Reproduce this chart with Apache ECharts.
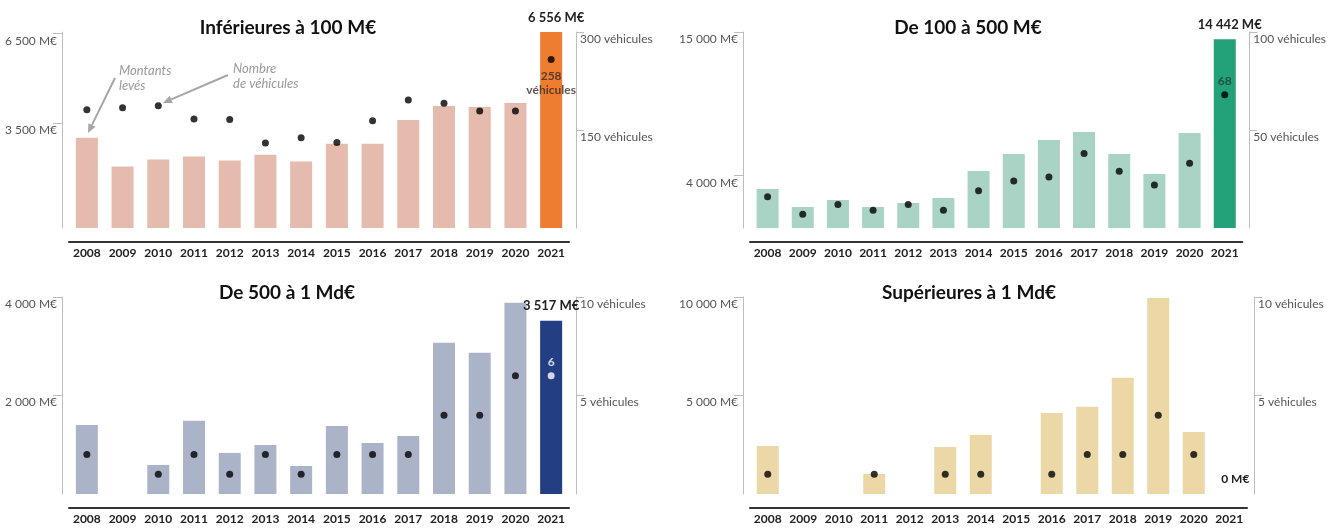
<!DOCTYPE html>
<html>
<head>
<meta charset="utf-8">
<script src="https://cdn.jsdelivr.net/npm/echarts@6/dist/echarts.min.js"></script>
<style>
html,body{margin:0;padding:0;background:#fff;}
#chart{width:1329px;height:528px;}
</style>
</head>
<body>
<div id="chart"></div>
<script>
// ---- data ----
const years = ['2008','2009','2010','2011','2012','2013','2014','2015','2016','2017','2018','2019','2020','2021'];

const amtInf100   = [3018, 2056, 2288, 2388, 2255, 2454, 2222, 2819, 2819, 3615, 4080, 4046, 4179, 6556];
const vehInf100   = [181, 184, 187, 167, 166, 130, 138, 131, 164, 196, 191, 179, 179, 258];

const amt100_500  = [2985, 1607, 2143, 1607, 1913, 2296, 4362, 5663, 6735, 7347, 5663, 4133, 7270, 14442];
const veh100_500  = [16, 7, 12, 9, 12, 9, 19, 24, 26, 38, 29, 22, 33, 68];

const amt500_1000 = [1403, null, 590, 1485, 834, 997, 569, 1383, 1037, 1180, 3071, 2868, 3885, 3517];
const veh500_1000 = [2, null, 1, 2, 1, 2, 1, 2, 2, 2, 4, 4, 6, 6];

const amtSup1000  = [2440, null, null, 1017, null, 2390, 3000, null, 4118, 4423, 5897, 9950, 3152, 0];
const vehSup1000  = [1, null, null, 1, null, 1, 1, null, 1, 2, 2, 4, 2, null];

const titles = ['Inférieures à 100 M€', 'De 100 à 500 M€', 'De 500 à 1 Md€', 'Supérieures à 1 Md€'];
const leftTicks  = [[3500, 6500], [4000, 15000], [2000, 4000], [5000, 10000]];
const leftMax    = [6556, 15000, 4000, 10000];
const rightTicks = [[150, 300], [50, 100], [5, 10], [5, 10]];
const rightMax   = [300, 100, 10, 10];

// ---- styling ----
const FONT = 'Lato, "Open Sans", sans-serif';
const panels = [
  {amt: amtInf100,   veh: vehInf100,   light: '#e4bbad', dark: '#ee7d31', left: 69,  top: 32,  width: 500, height: 196, tx: 283},
  {amt: amt100_500,  veh: veh100_500,  light: '#a9d3c5', dark: '#23a179', left: 750, top: 32,  width: 497, height: 196, tx: 963},
  {amt: amt500_1000, veh: veh500_1000, light: '#aab3c8', dark: '#233e82', left: 69,  top: 297, width: 500, height: 197, tx: 282},
  {amt: amtSup1000,  veh: vehSup1000,  light: '#ecd7a6', dark: '#ecd7a6', left: 750, top: 297, width: 497, height: 197, tx: 964}
];

function fmt(v){ return String(v).replace(/\B(?=(\d{3})+(?!\d))/g, ' '); }

const grid = [], xAxis = [], yAxis = [], series = [], title = [];
panels.forEach((p, i) => {
  grid.push({left: p.left, top: p.top, width: p.width, height: p.height});
  title.push({
    text: titles[i], left: p.tx, top: p.top - 19, textAlign: 'center',
    textStyle: {fontFamily: FONT, fontWeight: 'bold', fontSize: 19, color: '#111'}
  });
  xAxis.push({
    type: 'category', gridIndex: i, data: years, offset: 14,
    axisLine: {onZero: false, lineStyle: {color: '#333', width: 2}},
    axisTick: {show: false},
    axisLabel: {fontFamily: FONT, fontWeight: 'bold', fontSize: 12, color: '#222', margin: 5, interval: 0}
  });
  yAxis.push({
    type: 'value', gridIndex: i, min: 0, max: leftMax[i], position: 'left', offset: 7,
    splitLine: {show: false},
    axisLine: {show: true, lineStyle: {color: '#bdbdbd', width: 1}},
    axisTick: {show: true, length: 9, customValues: leftTicks[i], lineStyle: {color: '#bdbdbd'}},
    axisLabel: {customValues: leftTicks[i], formatter: v => fmt(v) + ' M€', verticalAlign: 'top', padding: [1,0,0,0],
      fontFamily: FONT, fontSize: 12, color: '#555', margin: 5}
  });
  yAxis.push({
    type: 'value', gridIndex: i, min: 0, max: rightMax[i], position: 'right', offset: 7,
    splitLine: {show: false},
    axisLine: {show: true, lineStyle: {color: '#bdbdbd', width: 1}},
    axisTick: {show: true, length: 8, customValues: rightTicks[i], lineStyle: {color: '#bdbdbd'}},
    axisLabel: {customValues: rightTicks[i], formatter: v => v + ' véhicules', verticalAlign: 'top', padding: [1,0,0,0],
      fontFamily: FONT, fontSize: 12, color: '#555', margin: 4}
  });

  const last = years.length - 1;
  series.push({
    type: 'bar', xAxisIndex: i, yAxisIndex: 2 * i, barWidth: 22,
    data: p.amt.map((v, k) => {
      if (k !== last) return {value: v == null ? '-' : v, itemStyle: {color: p.light}};
      return {
        value: v, itemStyle: {color: p.dark},
        label: {show: true, position: 'top', distance: 8, offset: [i === 2 ? 0 : 5, 0],
          formatter: d => fmt(d.value) + ' M€',
          fontFamily: FONT, fontWeight: 'bold', fontSize: 13, color: '#222'}
      };
    })
  });
  series.push({
    type: 'scatter', xAxisIndex: i, yAxisIndex: 2 * i + 1, symbolSize: 7, z: 5,
    itemStyle: {color: '#000'},
    data: p.veh.map((v, k) => {
      if (v == null) return '-';
      if (k !== last) return v;
      if (i === 0) return {value: v, label: {show: true, position: 'bottom', distance: 6,
        formatter: d => d.value + '\nvéhicules', lineHeight: 14,
        fontFamily: FONT, fontWeight: 'bold', fontSize: 12, color: '#3a2a22'}};
      if (i === 1) return {value: v, label: {show: true, position: 'top', distance: 4,
        formatter: d => String(d.value), fontFamily: FONT, fontWeight: 'bold', fontSize: 12, color: '#1d3d33'}};
      return {value: v, itemStyle: {color: '#fff'}, label: {show: true, position: 'top', distance: 4,
        formatter: d => String(d.value), fontFamily: FONT, fontWeight: 'bold', fontSize: 12, color: '#fff'}};
    })
  });
});

// bottom-right panel: "0 M€" label on the empty 2021 bar
series[6].data[13] = {value: 0, label: {show: true, position: 'top', distance: 9, offset: [6, 0],
  formatter: '0 M€', fontFamily: FONT, fontWeight: 'bold', fontSize: 12, color: '#222'}};

// ---- annotation arrows (first panel) ----
function arrow(x1, y1, x2, y2){
  const ang = Math.atan2(y2 - y1, x2 - x1), L = 9, W = 4;
  const bx = x2 - L * Math.cos(ang), by = y2 - L * Math.sin(ang);
  const nx = -Math.sin(ang) * W, ny = Math.cos(ang) * W;
  return [
    {type: 'line', shape: {x1: x1, y1: y1, x2: bx, y2: by}, style: {stroke: '#a6a6a6', lineWidth: 2}},
    {type: 'polygon', shape: {points: [[x2, y2], [bx + nx, by + ny], [bx - nx, by - ny]]}, style: {fill: '#a6a6a6'}}
  ];
}
const annoStyle = {fontFamily: FONT, fontStyle: 'italic', fontSize: 13, fill: '#9a9a9a', lineHeight: 15};
const graphic = [
  {type: 'text', left: 119, top: 63, style: Object.assign({text: 'Montants\nlevés'}, annoStyle)},
  {type: 'text', left: 233, top: 61, style: Object.assign({text: 'Nombre\nde véhicules'}, annoStyle)}
].concat(arrow(115, 78, 88, 133), arrow(228, 75, 163, 103));

const chart = echarts.init(document.getElementById('chart'), null, {renderer: 'canvas'});
chart.setOption({
  animation: false,
  backgroundColor: '#fff',
  title, grid, xAxis, yAxis, series, graphic
});
</script>
</body>
</html>
